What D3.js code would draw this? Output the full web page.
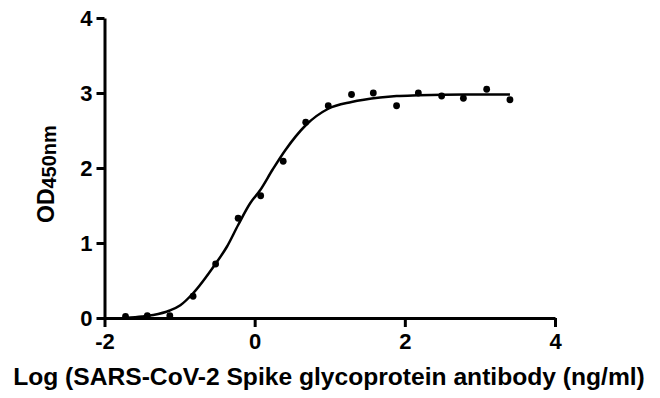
<!DOCTYPE html>
<html>
<head>
<meta charset="utf-8">
<script src="https://cdn.jsdelivr.net/npm/d3@7"></script>
<style>
  html, body { margin: 0; padding: 0; background: #fff; }
  svg { display: block; font-family: Arial, "Liberation Sans", sans-serif; }
</style>
</head>
<body>
<svg id="chart" width="660" height="398"></svg>
<script>
// measured points: log concentration vs OD450
const logConc = [-1.72, -1.43, -1.13, -0.82, -0.52, -0.22, 0.08, 0.38, 0.68, 0.98,
                 1.29, 1.58, 1.89, 2.18, 2.49, 2.78, 3.09, 3.40];
const od450 = [0.02, 0.03, 0.03, 0.29, 0.72, 1.33, 1.63, 2.09, 2.61, 2.83,
               2.98, 3.00, 2.83, 3.00, 2.96, 2.93, 3.05, 2.91];

// fitted curve
const fitX = [-1.72, -1.5, -1.35, -1.13, -0.99, -0.82, -0.53, -0.37, -0.22, -0.06,
              0.07, 0.24, 0.41, 0.68, 0.98, 1.29, 1.67, 1.89, 2.18, 2.8, 3.4];
const fitY = [0.0, 0.02, 0.04, 0.10, 0.17, 0.33, 0.71, 0.95, 1.24, 1.53,
              1.70, 1.98, 2.24, 2.57, 2.79, 2.88, 2.94, 2.96, 2.97, 2.98, 2.98];

const xTicks = [-2, 0, 2, 4];
const yTicks = [0, 1, 2, 3, 4];
const xTitle = "Log (SARS-CoV-2 Spike glycoprotein antibody (ng/ml)";

const svg = d3.select("#chart");

const x = d3.scaleLinear().domain([-2, 4]).range([104.5, 555]);
const y = d3.scaleLinear().domain([0, 4]).range([318, 18]);

function styleAxis(g) {
    g.attr("font-size", 22)
        .attr("font-weight", "bold")
        .attr("font-family", "Arial, 'Liberation Sans', sans-serif");
    g.selectAll("path, line")
        .style("stroke", "#000")
        .style("stroke-width", "3px");
    g.selectAll("text").attr("fill", "#000");
}

svg.append("g")
    .attr("transform", "translate(0,318)")
    .call(d3.axisBottom(x).tickValues(xTicks).tickFormat(d => String(d))
        .tickSize(9).tickSizeOuter(0).tickPadding(6))
    .call(styleAxis);

svg.append("g")
    .attr("transform", "translate(104.5,0)")
    .call(d3.axisLeft(y).tickValues(yTicks).tickFormat(d => String(d))
        .tickSize(8).tickSizeOuter(0).tickPadding(4))
    .call(styleAxis);

// curve
const line = d3.line()
    .x(d => x(d[0]))
    .y(d => y(d[1]))
    .curve(d3.curveMonotoneX);

svg.append("path")
    .datum(d3.zip(fitX, fitY))
    .attr("d", line)
    .attr("fill", "none")
    .attr("stroke", "#000")
    .attr("stroke-width", 2.5);

svg.selectAll(".pt")
    .data(d3.zip(logConc, od450))
    .join("circle")
    .attr("class", "pt")
    .attr("cx", d => x(d[0]))
    .attr("cy", d => y(d[1]))
    .attr("r", 3.4)
    .attr("fill", "#000");

// x title, sized to span the same width as the original
const xt = svg.append("text")
    .attr("x", 329)
    .attr("y", 385)
    .attr("text-anchor", "middle")
    .attr("font-size", 24)
    .attr("font-weight", "bold")
    .text(xTitle);
const w = xt.node().getComputedTextLength();
xt.attr("font-size", 24 * 632 / w);

// y title with subscript
const yt = svg.append("text")
    .attr("transform", "translate(54,223) rotate(-90)")
    .attr("font-size", 23)
    .attr("font-weight", "bold");
yt.append("tspan").text("OD");
yt.append("tspan").attr("font-size", 20).attr("dy", 2).text("450nm");
</script>
</body>
</html>
